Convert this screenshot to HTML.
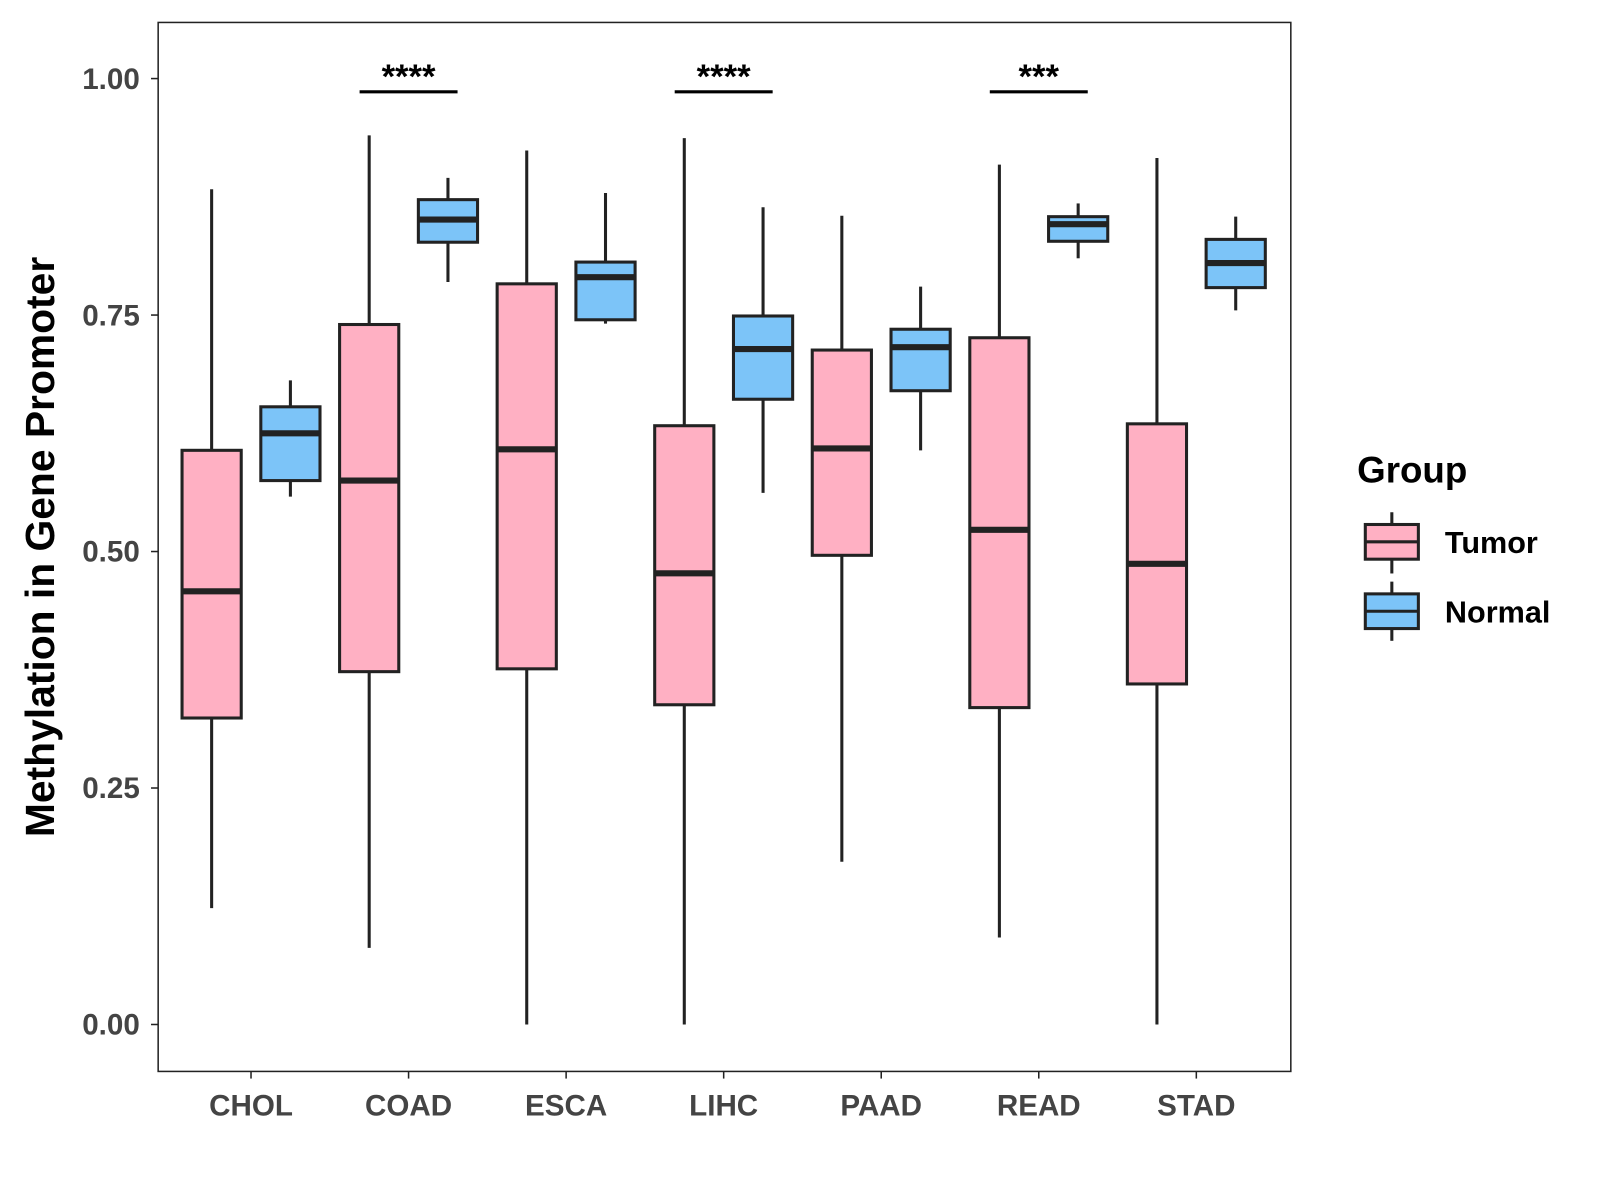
<!DOCTYPE html>
<html><head><meta charset="utf-8"><style>
html,body{margin:0;padding:0;background:#fff;}
svg{display:block;font-family:"Liberation Sans",Arial,sans-serif;font-weight:bold;}
</style></head><body>
<svg id="chart" width="1600" height="1200" viewBox="0 0 1568 1176" xmlns="http://www.w3.org/2000/svg">
<rect x="155" y="22" width="1110" height="1028" fill="#fff" stroke="#222" stroke-width="1.5"/>
<g id="marks"></g>
<text transform="translate(53,536) rotate(-90)" text-anchor="middle" font-size="40" fill="#000">Methylation in Gene Promoter</text>
<text x="1330" y="473" font-size="36" fill="#000">Group</text>
<g>
<line x1="1364" y1="502" x2="1364" y2="562" stroke="#222" stroke-width="3"/>
<rect x="1338" y="514" width="52" height="34" fill="#FFB0C3" stroke="#222" stroke-width="3"/>
<line x1="1338" y1="531" x2="1390" y2="531" stroke="#222" stroke-width="3"/>
<text x="1416" y="542" font-size="30" fill="#000">Tumor</text>
</g>
<g>
<line x1="1364" y1="570" x2="1364" y2="628" stroke="#222" stroke-width="3"/>
<rect x="1338" y="582" width="52" height="34" fill="#7CC4F8" stroke="#222" stroke-width="3"/>
<line x1="1338" y1="599" x2="1390" y2="599" stroke="#222" stroke-width="3"/>
<text x="1416" y="610" font-size="30" fill="#000">Normal</text>
</g>
</svg>
<script>
const categories=["CHOL","COAD","ESCA","LIHC","PAAD","READ","STAD"];
const tumorLow=[0.123,0.081,0.0,0.0,0.172,0.092,0.0];
const tumorQ1=[0.324,0.373,0.376,0.338,0.496,0.335,0.360];
const tumorMed=[0.458,0.575,0.608,0.477,0.609,0.523,0.487];
const tumorQ3=[0.607,0.740,0.783,0.633,0.713,0.726,0.635];
const tumorHigh=[0.883,0.940,0.924,0.937,0.855,0.909,0.916];
const normalLow=[0.558,0.785,0.741,0.562,0.607,0.810,0.755];
const normalQ1=[0.575,0.827,0.745,0.661,0.670,0.828,0.779];
const normalMed=[0.625,0.851,0.790,0.714,0.716,0.846,0.805];
const normalQ3=[0.653,0.872,0.806,0.749,0.735,0.854,0.830];
const normalHigh=[0.681,0.895,0.879,0.864,0.780,0.868,0.854];
const yTicks=[0,0.25,0.5,0.75,1.0];
const yTickLabels=["0.00","0.25","0.50","0.75","1.00"];
const sigLabels=["","****","","****","","***",""];

const NS="http://www.w3.org/2000/svg";
const g=document.getElementById('marks');
function y(v){return 1004-v*927;}
function x(i){return 246+i*154.4;}
function el(t,a,p){const e=document.createElementNS(NS,t);for(const k in a)e.setAttribute(k,a[k]);(p||g).appendChild(e);return e;}

yTicks.forEach((v,i)=>{
  const t=el('line',{x1:148,x2:155,y1:y(v),y2:y(v),stroke:'#222','stroke-width':1.5});
  
  
  const l=el('text',{x:137,y:y(v)+10,'text-anchor':'end','font-size':29,fill:'#444'});
  l.textContent=yTickLabels[i];
  
  
});
categories.forEach((c,i)=>{
  const t=el('line',{x1:x(i),x2:x(i),y1:1050,y2:1057,stroke:'#222','stroke-width':1.5});
  
  
  const l=el('text',{x:x(i),y:1093,'text-anchor':'middle','font-size':29,fill:'#444'});
  l.textContent=c;
  
  
});
function box(cx,lo,q1,md,q3,hi,fill,name){
  const grp=el('g',{});
  
  
  el('line',{x1:cx,x2:cx,y1:y(hi),y2:y(lo),stroke:'#222','stroke-width':3},grp);
  el('rect',{x:cx-29,y:y(q3),width:58,height:y(q1)-y(q3),fill:fill,stroke:'#222','stroke-width':3},grp);
  el('line',{x1:cx-29,x2:cx+29,y1:y(md),y2:y(md),stroke:'#222','stroke-width':6},grp);
}
categories.forEach((c,i)=>{
  box(x(i)-38.6,tumorLow[i],tumorQ1[i],tumorMed[i],tumorQ3[i],tumorHigh[i],'#FFB0C3','box-tumor-'+c.toLowerCase());
  box(x(i)+38.6,normalLow[i],normalQ1[i],normalMed[i],normalQ3[i],normalHigh[i],'#7CC4F8','box-normal-'+c.toLowerCase());
  if(sigLabels[i]){
    const b=el('line',{x1:x(i)-48,x2:x(i)+48,y1:90,y2:90,stroke:'#000','stroke-width':3});
    
    
    const s=el('text',{x:x(i),y:86,'text-anchor':'middle','font-size':34,fill:'#000'});
    s.textContent=sigLabels[i];
    
    
  }
});
</script>
</body></html>
